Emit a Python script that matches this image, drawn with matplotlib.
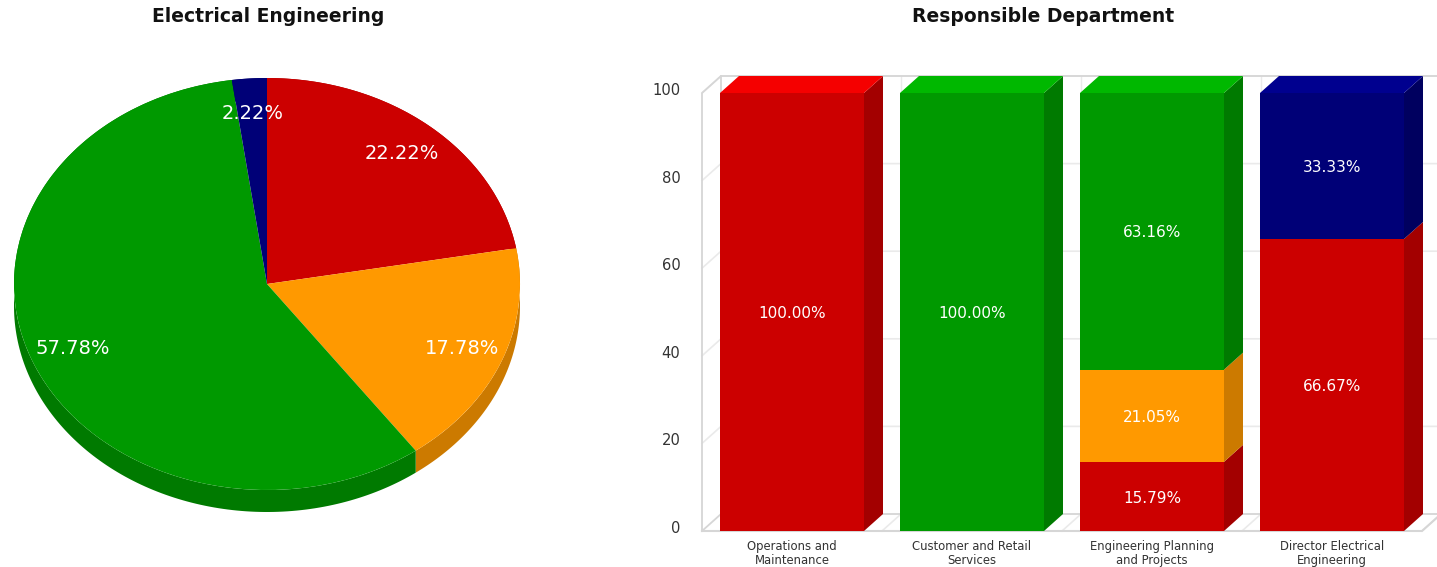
import numpy as np
import matplotlib
matplotlib.use("Agg")
import matplotlib.pyplot as plt
from matplotlib.transforms import ScaledTranslation

W, H, DPI = 1437, 567, 100

pie_title = "Electrical Engineering"
pie_values = [22.22, 17.78, 57.78, 2.22]
pie_colors = ["#CC0000", "#FF9900", "#009900", "#000077"]
pie_side = ["#A30000", "#CC7A00", "#007A00", "#00005F"]

bar_title = "Responsible Department"
categories = ["Operations and\nMaintenance", "Customer and Retail\nServices",
              "Engineering Planning\nand Projects", "Director Electrical\nEngineering"]
red = [100.0, 0, 15.79, 66.67]
orange = [0, 0, 21.05, 0]
green = [0, 100.0, 63.16, 0]
navy = [0, 0, 0, 33.33]
series = [red, orange, green, navy]
y_ticks = [0, 20, 40, 60, 80, 100]

face = ["#CC0000", "#FF9900", "#009900", "#000077"]
side = ["#A30000", "#CC7A00", "#007A00", "#00005F"]
top = ["#F50000", "#FFB000", "#00B800", "#00008F"]
WALL = "#D6D6D6"
GRID = "#EAEAEA"
FONT = "DejaVu Sans"


def axes_px(fig, x0, x1, y_top, y_bottom):
    return fig.add_axes([x0 / W, 1 - y_bottom / H, (x1 - x0) / W, (y_bottom - y_top) / H])


plt.rcParams["font.family"] = FONT
fig = plt.figure(figsize=(W / DPI, H / DPI), dpi=DPI, facecolor="white")
fig.text(268 / W, 1 - 17 / H, pie_title, ha="center", va="center", fontsize=13.5, fontweight="bold", color="#111111")
fig.text(1043 / W, 1 - 17 / H, bar_title, ha="center", va="center", fontsize=13.5, fontweight="bold", color="#111111")

# ---------- pie ----------
pax = axes_px(fig, 14, 520, 78, 490)
depth = 22 / 206
fracs = np.array(pie_values) / sum(pie_values)
edges = np.concatenate([[0], np.cumsum(fracs)]) * 2 * np.pi
for i in range(len(fracs)):
    t = np.linspace(edges[i], edges[i + 1], 200)
    px, py = np.sin(t), np.cos(t)
    pax.fill(np.r_[px, px[::-1]], np.r_[py, py[::-1] - depth], color=pie_side[i], lw=0, clip_on=False)
wedges, _, autos = pax.pie(pie_values, colors=pie_colors, startangle=90, counterclock=False, radius=1,
                           autopct="%.2f%%", pctdistance=0.83,
                           textprops=dict(color="white", fontsize=14), wedgeprops=dict(linewidth=0))
for w in wedges:
    w.set_clip_on(False)
pax.set_aspect("auto")
pax.set_xlim(-1, 1)
pax.set_ylim(-1, 1)
pax.axis("off")

# ---------- stacked 3D-look bars ----------
ax = axes_px(fig, 702, 1422, 93, 531)
ax.set_xlim(-0.5, 3.5)
ax.set_ylim(0, 100)
dx = 19 / 180
dy = 17 / 4.38
L, R = -0.5, 3.5

for v in y_ticks[1:]:
    ax.plot([L, L + dx, R + dx], [v, v + dy, v + dy], color=GRID, lw=1.2, clip_on=False, zorder=1)
for k in range(1, 5):
    ax.plot([L + k, L + k + dx], [0, dy], color=GRID, lw=1.2, clip_on=False, zorder=1)
    ax.plot([L + k + dx] * 2, [dy, 100 + dy], color=GRID, lw=1.0, clip_on=False, zorder=1)
ax.plot([L, L, L + dx, L + dx], [0, 100, 100 + dy, dy], color=WALL, lw=1.3, clip_on=False, zorder=1.5)
ax.plot([L, L + dx, R + dx + 0.2], [0, dy, dy], color=WALL, lw=1.3, clip_on=False, zorder=1.5)
ax.plot([L + dx, R + dx + 0.2], [100 + dy] * 2, color=WALL, lw=1.3, clip_on=False, zorder=1.5)
ax.plot([L, R, R + dx], [0, 0, dy], color=WALL, lw=1.5, clip_on=False, zorder=1.5)

x = np.arange(len(categories))
width = 0.8
bottom = np.zeros(len(categories))
totals = np.sum(series, axis=0)
for s, vals in enumerate(series):
    vals = np.array(vals, dtype=float)
    ax.bar(x, vals, width, bottom=bottom, color=face[s], lw=0, zorder=3, clip_on=False)
    for i, v in enumerate(vals):
        if v <= 0:
            continue
        b, e = bottom[i], bottom[i] + v
        xr = x[i] + width / 2
        ax.fill([xr, xr + dx, xr + dx, xr], [b, b + dy, e + dy, e], color=side[s], lw=0, zorder=3, clip_on=False)
        if abs(e - totals[i]) < 0.01:
            xl = x[i] - width / 2
            ax.fill([xl, xr, xr + dx, xl + dx], [e, e, e + dy, e + dy], color=top[s], lw=0, zorder=3, clip_on=False)
        ax.annotate(f"{v:.2f}%", (x[i], (b + e) / 2), xytext=(0, -1.2), textcoords="offset points",
                    color="white", fontsize=11, ha="center", va="center", zorder=5)
    bottom += vals

for sp in ax.spines.values():
    sp.set_visible(False)
ax.set_xticks(x, categories)
ax.set_yticks(y_ticks)
ax.tick_params(axis="x", length=0, pad=6.5, labelsize=8.4, labelcolor="#333333")
ax.tick_params(axis="y", length=0, pad=15.5, labelsize=10.6, labelcolor="#333333")
for lab in ax.get_yticklabels():
    lab.set_transform(lab.get_transform() + ScaledTranslation(0, 4 / DPI, fig.dpi_scale_trans))
for lab in ax.get_xticklabels():
    lab.set_linespacing(1.12)

fig.savefig("out.png", dpi=DPI, facecolor="white")
